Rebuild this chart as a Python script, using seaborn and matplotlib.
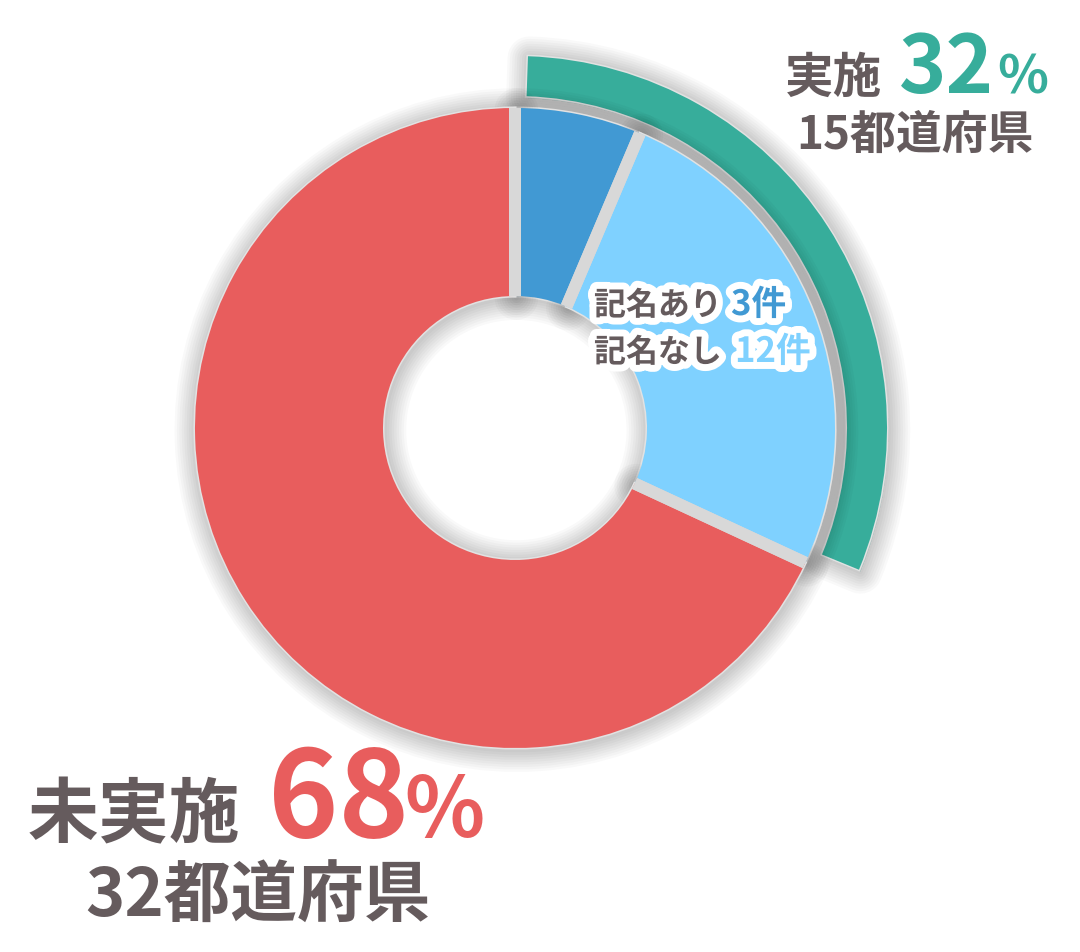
import matplotlib
matplotlib.use("Agg")
import matplotlib.pyplot as plt
import matplotlib.patheffects as pe
from matplotlib.patches import Wedge
import seaborn as sns

# survey data: prefectures that run the programme, split by named / anonymous
categories = ["記名あり", "記名なし", "未実施"]
counts = [3, 12, 32]
done_counts = [15, 32]          # 実施 / 未実施 (outer ring)
done_pct = "32"
not_done_pct = "68"
colors = ["#4199D3", "#7FD1FF", "#E85D5D"]
ring_colors = ["#37AD9B", "none"]
text_color = "#655B5D"

sns.set_theme(style="white")
plt.rcParams["font.family"] = ["Noto Sans CJK JP", "DejaVu Sans"]

W, H = 1080, 952
fig = plt.figure(figsize=(W / 100, H / 100), dpi=100)
ax = fig.add_axes([0, 0, 1, 1])

cx, cy = 515, H - 428
px = 0.72  # points per pixel at dpi 100
r_out, r_in = 320, 132
gap = 12


def halo(n=9, step=3.5, alpha=0.022):
    # soft drop shadow + thin light rim
    effects = [pe.Stroke(linewidth=step * (i + 1), foreground="black",
                         alpha=alpha, offset=(1, -1.5), joinstyle="round")
               for i in range(n)]
    return effects + [pe.Stroke(linewidth=2.2, foreground="#e2e2e2")]


# outer ring: share of prefectures that run it
ring, _ = ax.pie(done_counts, colors=ring_colors, radius=372, center=(cx, cy),
                 startangle=90, counterclock=False,
                 wedgeprops=dict(width=40, linewidth=0))
ring[0].set_theta1(ring[0].theta1 + 2.5)
ring[0].set_theta2(ring[0].theta2 - 2.0)
ring[0].set_path_effects(halo() + [pe.Normal()])

# soft shadow under the donut
ax.pie(counts, colors=["white"] * 3, radius=r_out, center=(cx, cy),
       startangle=90, counterclock=False,
       wedgeprops=dict(width=r_out - r_in, linewidth=0, path_effects=halo()))

# donut itself
wedges, _ = ax.pie(counts, colors=colors, radius=r_out, center=(cx, cy),
                   startangle=90, counterclock=False,
                   wedgeprops=dict(width=r_out - r_in, linewidth=0))

# grey gaps between slices, kept inside the ring
ring_clip = Wedge((cx, cy), r_out, 0, 360, width=r_out - r_in,
                  transform=ax.transData)
gaps, _ = ax.pie(counts, colors=["none"] * 3, radius=r_out + 20, center=(cx, cy),
                 startangle=90, counterclock=False,
                 wedgeprops=dict(width=r_out - r_in + 40, edgecolor="#d8d8d8",
                                 linewidth=gap * px))
for g in gaps:
    g.set_clip_on(True)
    g.set_clip_path(ring_clip)

ax.set_xlim(0, W)
ax.set_ylim(0, H)
ax.set_aspect("equal")
ax.axis("off")

bold = dict(fontweight="bold", va="baseline")

# labels top right
ax.text(785, H - 93, "実施", fontsize=35, color=text_color, **bold)
ax.text(899, H - 93, done_pct, fontsize=58, color=ring_colors[0], **bold)
ax.text(997, H - 93, "%", fontsize=38, color=ring_colors[0], **bold)
ax.text(915, H - 149, f"{done_counts[0]}都道府県", fontsize=33, color=text_color,
        ha="center", **bold)

# labels bottom left
ax.text(28, H - 837, "未実施", fontsize=51, color=text_color, **bold)
ax.text(268, H - 837, not_done_pct, fontsize=86, color=colors[2], **bold)
ax.text(404, H - 837, "%", fontsize=60, color=colors[2], **bold)
ax.text(258, H - 917, f"{counts[2]}都道府県", fontsize=48, color=text_color,
        ha="center", **bold)

# labels inside the light blue slice
outline = [pe.withStroke(linewidth=10, foreground="white")]
for i, (yb, xn) in enumerate([(315, 731), (362, 735)]):
    ax.text(594, H - yb, categories[i], fontsize=23, color=text_color,
            path_effects=outline, **bold)
    ax.text(xn, H - yb, f"{counts[i]}件", fontsize=25, color=colors[i],
            path_effects=outline, **bold)

plt.savefig("out.png", dpi=100)
